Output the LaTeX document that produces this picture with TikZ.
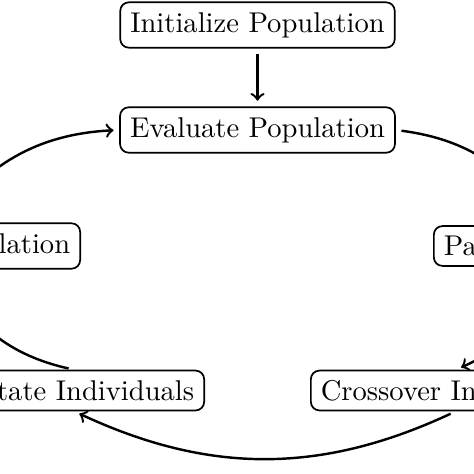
\documentclass[tikz,border=0pt]{standalone}
\begin{document}
\begin{tikzpicture}[x=0.35pt, y=-0.35pt,
  box/.style={draw, line width=0.6pt, rounded corners=3pt, inner xsep=3.5pt, inner ysep=3.5pt},
  cut/.style={text height=6.94pt},
  flow/.style={->, line width=0.85pt, shorten <=2pt, shorten >=2pt},
]
\fill[white] (0,0) rectangle (474,474);
\useasboundingbox (0,0) rectangle (474,474);
\clip (0,0) rectangle (474,474);
\node[box] (init) at (257.5,25) {Initialize Population};
\node[box] (eval) at (257.5,130) {Evaluate Population};
\node[box, cut, anchor=east, text width=88.2pt, align=right, text depth=1.94pt] (repl) at (81,246) {lation};
\node[box, cut, anchor=west, text width=71.4pt, align=left, text depth=0pt] (sel) at (433,246) {Pa};
\node[box, cut, anchor=east, text width=84pt, align=right, text depth=0pt] (mut) at (205,390.5) {tate Individuals};
\node[box, cut, anchor=west, text width=94.5pt, align=left, text depth=0pt] (cross) at (310,390.5) {Crossover In};
\draw[flow] (init) -- (eval);
\draw[flow] (eval.east) to[bend left=25] (sel.north);
\draw[flow] (sel.south) to[bend left=25] (cross.north);
\draw[flow] (cross.south) to[bend left=25] (mut.south);
\draw[flow] (mut.north) to[bend left=25] (repl.south);
\draw[flow] (repl.north) to[bend left=25] (eval.west);
\end{tikzpicture}
\end{document}
